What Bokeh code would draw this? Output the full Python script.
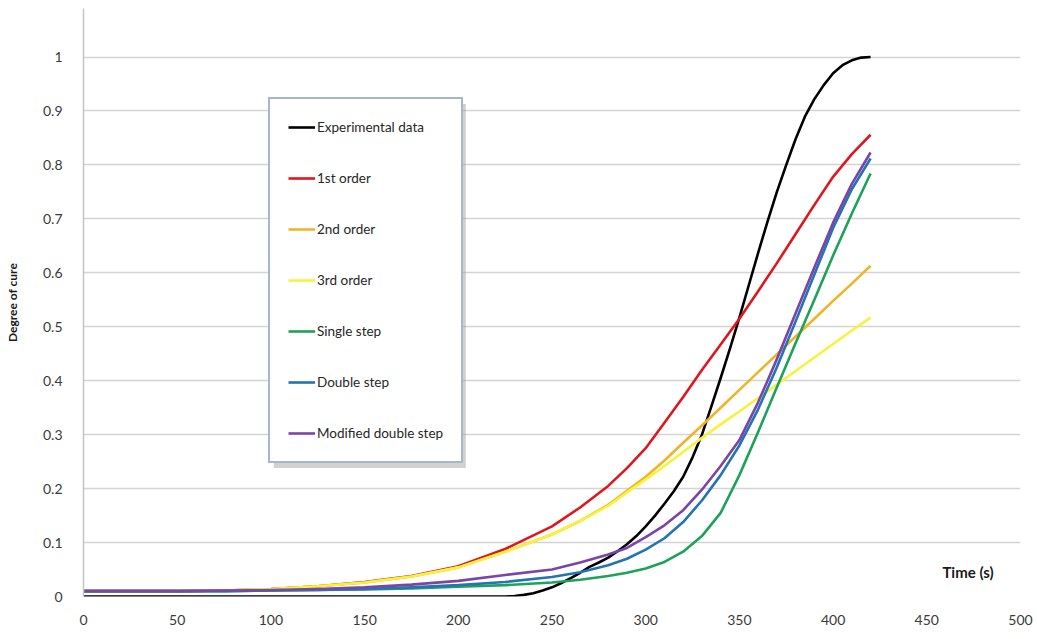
from bokeh.plotting import figure
from bokeh.models import (Range1d, FixedTicker, NumeralTickFormatter, Legend, LegendItem,
                          Label, ColumnDataSource, BoxAnnotation)
from bokeh.embed import file_html
from bokeh.resources import INLINE

# ---- data ----
time_s = [0, 50, 75, 100, 125, 150, 175, 200, 225, 250, 265, 280, 290, 300, 310, 320,
          330, 340, 350, 360, 370, 380, 390, 400, 410, 420]

exp_time = [0, 100, 200, 225, 230, 235, 240, 245, 250, 255, 260, 265, 270, 275, 280, 285,
            290, 295, 300, 305, 310, 315, 320, 325, 330, 335, 340, 345, 350, 355, 360,
            365, 370, 375, 380, 385, 390, 395, 400, 405, 410, 415, 420]
experimental = [0, 0, 0, 0.0, 0.001, 0.003, 0.006, 0.011, 0.017, 0.025, 0.034, 0.044, 0.055,
                0.063, 0.072, 0.084, 0.097, 0.112, 0.13, 0.15, 0.172, 0.195, 0.222, 0.258,
                0.30, 0.352, 0.405, 0.46, 0.517, 0.577, 0.637, 0.695, 0.75, 0.80, 0.848,
                0.89, 0.922, 0.948, 0.97, 0.985, 0.994, 0.999, 1.0]

first_order = [0.01, 0.01, 0.011, 0.014, 0.019, 0.027, 0.038, 0.056, 0.088, 0.13, 0.165,
               0.205, 0.238, 0.275, 0.322, 0.37, 0.42, 0.467, 0.515, 0.566, 0.618, 0.672,
               0.726, 0.778, 0.82, 0.856]
second_order = [0.01, 0.01, 0.011, 0.014, 0.019, 0.026, 0.037, 0.054, 0.083, 0.115, 0.14,
                0.17, 0.196, 0.222, 0.252, 0.285, 0.317, 0.35, 0.383, 0.416, 0.449, 0.482,
                0.515, 0.548, 0.58, 0.613]
third_order = [0.01, 0.01, 0.011, 0.014, 0.019, 0.026, 0.037, 0.054, 0.083, 0.115, 0.14,
               0.168, 0.193, 0.217, 0.242, 0.268, 0.294, 0.319, 0.343, 0.368, 0.393, 0.418,
               0.443, 0.468, 0.493, 0.517]
single_step = [0.01, 0.01, 0.01, 0.011, 0.012, 0.013, 0.015, 0.018, 0.021, 0.026, 0.031,
               0.038, 0.044, 0.052, 0.064, 0.083, 0.112, 0.155, 0.225, 0.305, 0.388, 0.47,
               0.55, 0.632, 0.71, 0.784]
double_step = [0.01, 0.01, 0.01, 0.011, 0.012, 0.014, 0.017, 0.021, 0.027, 0.036, 0.045,
               0.058, 0.07, 0.087, 0.108, 0.138, 0.178, 0.225, 0.28, 0.347, 0.425, 0.51,
               0.597, 0.683, 0.755, 0.812]
modified_double_step = [0.01, 0.01, 0.011, 0.012, 0.014, 0.017, 0.022, 0.029, 0.04, 0.05,
                        0.063, 0.078, 0.09, 0.11, 0.132, 0.16, 0.198, 0.242, 0.29, 0.36,
                        0.44, 0.525, 0.61, 0.693, 0.765, 0.823]

series_names = ["Experimental data", "1st order", "2nd order", "3rd order",
                "Single step", "Double step", "Modified double step"]
series_x = [exp_time, time_s, time_s, time_s, time_s, time_s, time_s]
series_values = [experimental, first_order, second_order, third_order,
                 single_step, double_step, modified_double_step]
series_colors = ["#000000", "#e0161e", "#f0b429", "#f7f23a", "#1da25a", "#2274b5", "#7b45a8"]

x_ticks = [0, 50, 100, 150, 200, 250, 300, 350, 400, 450, 500]
y_ticks = [0, 0.1, 0.2, 0.3, 0.4, 0.5, 0.6, 0.7, 0.8, 0.9, 1]

FONT = "Lato"

p = figure(width=1034, height=632, output_backend="svg", toolbar_location=None,
           x_range=Range1d(0, 500), y_range=Range1d(0, 1.09),
           min_border_left=83, min_border_right=14, min_border_top=8, min_border_bottom=36)
p.outline_line_color = None
p.background_fill_color = "white"
p.border_fill_color = "white"

p.xgrid.grid_line_color = None
p.ygrid.grid_line_color = "#d4d4d4"
p.ygrid.grid_line_width = 1.5
p.yaxis.ticker = FixedTicker(ticks=y_ticks)
p.xaxis.ticker = FixedTicker(ticks=x_ticks)
p.yaxis.formatter = NumeralTickFormatter(format="0.[0]")

for ax in (p.xaxis, p.yaxis):
    ax.major_tick_line_color = None
    ax.minor_tick_line_color = None
    ax.major_label_text_font = FONT
    ax.major_label_text_font_size = "14px"
    ax.major_label_text_color = "#3a3a3a"
p.xaxis.axis_line_color = None
p.xaxis.major_label_standoff = 12
p.yaxis.axis_line_color = "#c4c4c4"
p.yaxis.axis_line_width = 1.5
p.yaxis.major_label_standoff = 15
p.yaxis.axis_label = "Degree of cure"
p.yaxis.axis_label_text_font = FONT
p.yaxis.axis_label_text_font_style = "bold"
p.yaxis.axis_label_text_font_size = "12px"
p.yaxis.axis_label_text_color = "#1a1a1a"
p.yaxis.axis_label_standoff = 20

items = []
for name, xs, vals, col in zip(series_names, series_x, series_values, series_colors):
    src = ColumnDataSource(dict(x=xs, y=vals))
    r = p.line("x", "y", source=src, line_color=col, line_width=2.6, line_join="round")
    items.append(LegendItem(label=name, renderers=[r]))

# soft drop shadow behind the legend box (decoration)
p.add_layout(BoxAnnotation(left=101.5, right=204, top=0.913, bottom=0.238,
                           fill_color="#9a9a9a", fill_alpha=0.45,
                           line_color=None))

legend = Legend(items=items, location=(185, 133), orientation="vertical",
                glyph_width=27, glyph_height=20, label_standoff=2, spacing=31,
                padding=18, margin=0, label_text_font=FONT, label_text_font_size="13.5px",
                label_text_color="#262626", border_line_width=2,
                border_line_color="#4d6f96", background_fill_color="white",
                background_fill_alpha=1.0)
p.add_layout(legend)

p.add_layout(Label(x=472, y=0.045, text="Time (s)", text_font=FONT, text_font_style="bold",
                   text_font_size="15px", text_color="#1a1a1a",
                   text_align="center", text_baseline="middle"))

open("out.html", "w").write(file_html(p, INLINE))
